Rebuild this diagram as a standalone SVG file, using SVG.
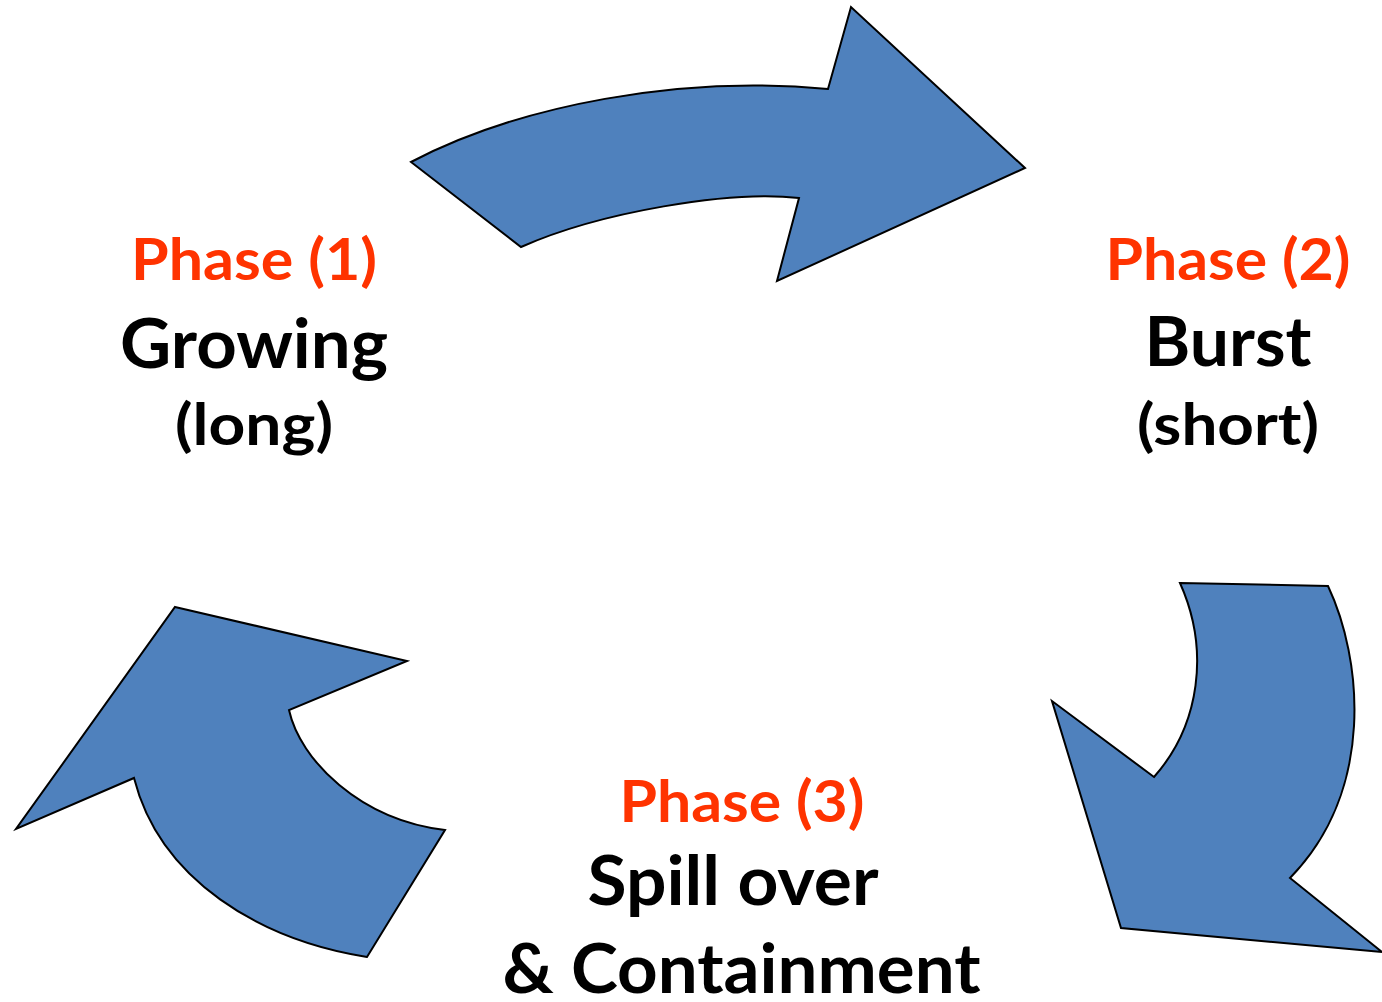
<svg xmlns="http://www.w3.org/2000/svg" width="1382" height="1002" viewBox="0 0 1382 1002">
<style>
.arrow{fill:#4F81BD;stroke:#000;stroke-width:2;stroke-linejoin:miter}
text{font-family:Lato,"Open Sans","Liberation Sans",sans-serif;font-weight:bold;text-anchor:middle}
.ph{fill:#FF3300;font-size:57px}
.big{fill:#000;font-size:68px}
.sm{fill:#000;font-size:58px}
</style>
<rect width="1382" height="1002" fill="#fff"/>
<g id="connectors">
<path id="arrow-1-2" class="arrow" d="M411,162 C520,105 680,75 828,89 L851,7 L1025,168 L777,281 L799,198 C730,190 600,212 521,247 Z"/>
<path id="arrow-2-3" class="arrow" d="M1180,583 L1328,586 C1362,658 1376,790 1290,878 L1382,952 L1121,928 L1052,701 L1154,777 C1200,725 1210,650 1180,583 Z"/>
<path id="arrow-3-1" class="arrow" d="M175,607 L407,661 L289,710 C300,760 360,820 445,830 L367,957 C260,940 160,880 134,778 L16,829 Z"/>
</g>
<g id="phase1">
<text class="ph" x="254" y="280" textLength="246" lengthAdjust="spacingAndGlyphs">Phase (1)</text>
<text class="big" x="254" y="368" textLength="268" lengthAdjust="spacingAndGlyphs">Growing</text>
<text class="sm" x="254" y="445" textLength="158" lengthAdjust="spacingAndGlyphs">(long)</text>
</g>
<g id="phase2">
<text class="ph" x="1228" y="280" textLength="245" lengthAdjust="spacingAndGlyphs">Phase (2)</text>
<text class="big" x="1228" y="366" textLength="167" lengthAdjust="spacingAndGlyphs">Burst</text>
<text class="sm" x="1228" y="445" textLength="182" lengthAdjust="spacingAndGlyphs">(short)</text>
</g>
<g id="phase3">
<text class="ph" x="742" y="822" textLength="245" lengthAdjust="spacingAndGlyphs">Phase (3)</text>
<text class="big" x="733" y="905" textLength="291" lengthAdjust="spacingAndGlyphs">Spill over</text>
<text class="big" x="741.5" y="993" textLength="478" lengthAdjust="spacingAndGlyphs">&amp; Containment</text>
</g>
</svg>
